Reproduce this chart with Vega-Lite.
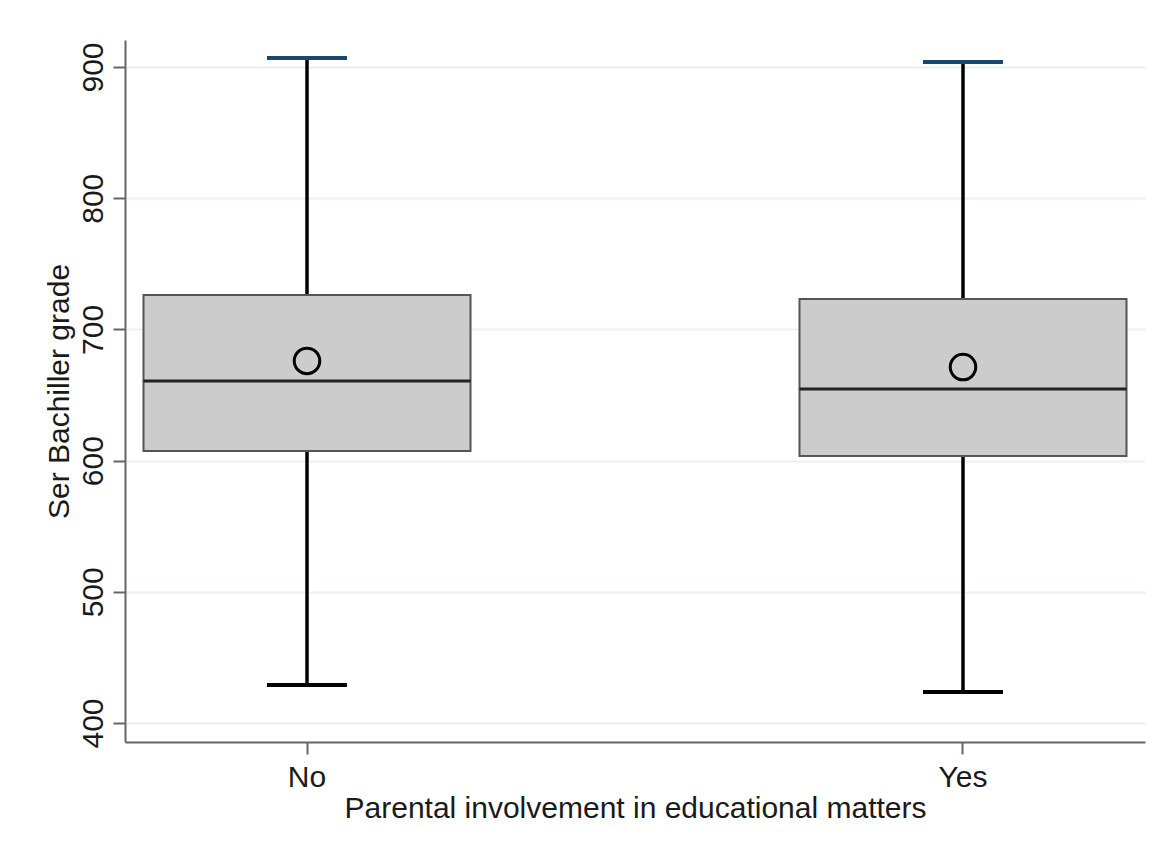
{
  "$schema": "https://vega.github.io/schema/vega-lite/v6.json",
  "autosize": {"type": "none"},
  "width": 1020,
  "height": 702,
  "padding": {"left": 125, "top": 40, "right": 18, "bottom": 109},
  "background": "white",
  "config": {
    "view": {"stroke": null},
    "font": "Liberation Sans"
  },
  "data": {
    "values": [
      {"group": "No", "lower": 429, "q1": 607.3, "median": 660.7, "q3": 726.2, "upper": 906.9, "mean": 676},
      {"group": "Yes", "lower": 423.6, "q1": 603.5, "median": 654.6, "q3": 723.2, "upper": 903.8, "mean": 671.3}
    ]
  },
  "encoding": {
    "x": {
      "field": "group",
      "type": "nominal",
      "scale": {"type": "band", "paddingInner": 0.5015, "paddingOuter": 0.0282},
      "axis": {
        "title": "Parental involvement in educational matters",
        "titleFontSize": 30,
        "titleFontWeight": "normal",
        "titleColor": "#1a1a1a",
        "titlePadding": 1,
        "labelFontSize": 30,
        "labelColor": "#1a1a1a",
        "labelAngle": 0,
        "labelPadding": 8,
        "domainColor": "#666666",
        "domainWidth": 2,
        "tickColor": "#666666",
        "tickWidth": 2,
        "tickSize": 12,
        "grid": false
      }
    }
  },
  "layer": [
    {
      "mark": {"type": "rule", "color": "#000000", "strokeWidth": 3.5},
      "encoding": {
        "y": {
          "field": "lower",
          "type": "quantitative",
          "scale": {"domain": [385.5, 920.6], "nice": false, "zero": false},
          "axis": {
            "title": "Ser Bachiller grade",
            "titleFontSize": 30,
            "titleFontWeight": "normal",
            "titleColor": "#1a1a1a",
            "titlePadding": 4,
            "values": [400, 500, 600, 700, 800, 900],
            "labelFontSize": 30,
            "labelColor": "#1a1a1a",
            "labelAngle": 270,
            "labelAlign": "center",
            "labelBaseline": "bottom",
            "labelPadding": 5,
            "domainColor": "#666666",
            "domainWidth": 2,
            "tickColor": "#666666",
            "tickWidth": 2,
            "tickSize": 12,
            "grid": true,
            "gridColor": "#eaf2f3",
            "gridWidth": 2
          }
        },
        "y2": {"field": "q1"}
      }
    },
    {
      "mark": {"type": "rule", "color": "#000000", "strokeWidth": 3.5},
      "encoding": {
        "y": {"field": "q3", "type": "quantitative"},
        "y2": {"field": "upper"}
      }
    },
    {
      "mark": {"type": "bar", "fill": "#cccccc", "stroke": "#555555", "strokeWidth": 2},
      "encoding": {
        "y": {"field": "q1", "type": "quantitative"},
        "y2": {"field": "q3"}
      }
    },
    {
      "mark": {"type": "tick", "color": "#222222", "thickness": 3, "size": 327, "opacity": 1},
      "encoding": {
        "y": {"field": "median", "type": "quantitative"}
      }
    },
    {
      "mark": {"type": "tick", "color": "#1a476f", "thickness": 4, "size": 80, "opacity": 1},
      "encoding": {
        "y": {"field": "upper", "type": "quantitative"}
      }
    },
    {
      "mark": {"type": "tick", "color": "#000000", "thickness": 4, "size": 80, "opacity": 1},
      "encoding": {
        "y": {"field": "lower", "type": "quantitative"}
      }
    },
    {
      "mark": {"type": "point", "shape": "circle", "filled": false, "stroke": "#000000", "strokeWidth": 3, "size": 650, "opacity": 1},
      "encoding": {
        "y": {"field": "mean", "type": "quantitative"}
      }
    }
  ]
}
